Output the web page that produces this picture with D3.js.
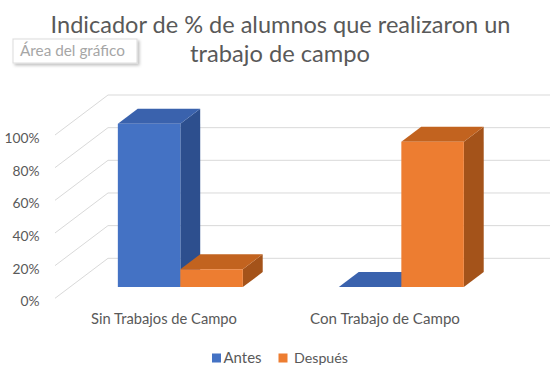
<!DOCTYPE html>
<html>
<head>
<meta charset="utf-8">
<script src="https://cdn.jsdelivr.net/npm/d3@7/dist/d3.min.js"></script>
<style>
  html, body { margin: 0; padding: 0; background: #fff; }
  svg { display: block; }
  text { font-family: Lato, "Open Sans", sans-serif; }
</style>
</head>
<body>
<svg id="chart" width="554" height="376"></svg>
<script>
// ---- data ----
const categories = ["Sin Trabajos de Campo", "Con Trabajo de Campo"];
const seriesNames = ["Antes", "Después"];
const antes = [1.00, 0.00];
const despues = [0.11, 0.89];
const yTicks = [0, 0.2, 0.4, 0.6, 0.8, 1.0];
const titleLines = ["Indicador de % de alumnos que realizaron un", "trabajo de campo"];
const tooltipText = "Área del gráfico";

const series = [
  { name: seriesNames[0], values: antes, front: "#4472C4", top: "#3a62ad", side: "#2d4f8e" },
  { name: seriesNames[1], values: despues, front: "#ED7D31", top: "#c2631f", side: "#a4531a" }
];

const svg = d3.select("#chart");
const textColor = "#595959";

function fit(sel, w) {
  sel.each(function () {
    const t = this.getComputedTextLength();
    const fs = parseFloat(this.getAttribute("font-size"));
    if (t > 0) this.setAttribute("font-size", (fs * w / t).toFixed(2));
  });
}

// ---- scales / projection ----
const x = d3.scaleBand().domain(categories).range([55, 497]).padding(0);
const xs = d3.scaleBand().domain(seriesNames).range([48, 173]).padding(0);
const y = d3.scaleLinear().domain([0, 1]).range([298.3, 135]);
const DX = 53, DY = -40;       // depth offset of the back wall
const d0 = 0.28, d1 = 0.655;   // depth extent of bars
function P(px, v, d) { return [px + d * DX, y(v) + d * DY]; }
const xLeft = x.range()[0], xRight = x.range()[1];

// ---- title ----
const title = svg.append("g").attr("fill", textColor);
title.append("text").attr("x", 280.5).attr("y", 33.3).attr("text-anchor", "middle")
  .attr("font-size", 20).text(titleLines[0]).call(fit, 460);
title.append("text").attr("x", 280).attr("y", 62).attr("text-anchor", "middle")
  .attr("font-size", 20).text(titleLines[1]).call(fit, 180);

// ---- tooltip box ----
const defs = svg.append("defs");
const f = defs.append("filter").attr("id", "sh").attr("x", "-10%").attr("y", "-20%").attr("width", "130%").attr("height", "160%");
f.append("feDropShadow").attr("dx", 2).attr("dy", 2).attr("stdDeviation", 1.5).attr("flood-color", "#000").attr("flood-opacity", 0.25);
svg.append("rect").attr("x", 13).attr("y", 39).attr("width", 124).attr("height", 24)
  .attr("fill", "#fff").attr("stroke", "#dcdcdc").attr("filter", "url(#sh)");
svg.append("text").attr("x", 20).attr("y", 56).attr("font-size", 13).attr("fill", "#a6a6a6")
  .text(tooltipText).call(fit, 105);

// ---- gridlines (back wall + side wall) ----
const grid = svg.append("g").attr("stroke", "#d9d9d9").attr("stroke-width", 1).attr("fill", "none");
yTicks.forEach(t => {
  const a = P(xLeft, t, 0), b = P(xLeft, t, 1), c = P(xRight, t, 1);
  grid.append("path").attr("d", `M${a[0]},${a[1]}L${b[0]},${b[1]}L${c[0]},${c[1]}`);
});

// ---- y axis labels ----
const fmt = d3.format(".0%");
const yl = svg.append("g").attr("fill", textColor);
const yLabels = yl.selectAll("text").data(yTicks).join("text")
  .attr("x", 39.5).attr("y", d => y(d) + 8).attr("text-anchor", "end")
  .attr("font-size", 14).text(d => fmt(d));
{
  const node = yLabels.filter(d => d === 1).node();
  const t = node.getComputedTextLength();
  const fs = (14 * 35 / t).toFixed(2);
  yLabels.attr("font-size", fs);
}

// ---- bars ----
const bars = svg.append("g");
function poly(pts) { return "M" + pts.map(p => p.join(",")).join("L") + "Z"; }
categories.forEach((cat, ci) => {
  series.forEach(s => {
    const v = s.values[ci];
    const x0 = x(cat) + xs(s.name), x1 = x0 + xs.bandwidth();
    const g = bars.append("g");
    // side
    g.append("path").attr("fill", s.side)
      .attr("d", poly([P(x1, 0, d0), P(x1, v, d0), P(x1, v, d1), P(x1, 0, d1)]));
    // top
    g.append("path").attr("fill", s.top)
      .attr("d", poly([P(x0, v, d0), P(x1, v, d0), P(x1, v, d1), P(x0, v, d1)]));
    // front
    g.append("path").attr("fill", s.front)
      .attr("d", poly([P(x0, 0, d0), P(x1, 0, d0), P(x1, v, d0), P(x0, v, d0)]));
  });
});

// ---- category labels ----
const cl = svg.append("g").attr("fill", textColor);
const catWidths = [146, 150];
categories.forEach((c, i) => {
  cl.append("text").attr("x", x(c) + x.bandwidth() / 2 - 1.5).attr("y", 324)
    .attr("text-anchor", "middle").attr("font-size", 14).text(c).call(fit, catWidths[i]);
});

// ---- legend ----
const lg = svg.append("g");
const legendPos = [{ sx: 212, tx: 223.5, w: 38 }, { sx: 278.5, tx: 294, w: 54 }];
series.forEach((s, i) => {
  lg.append("rect").attr("x", legendPos[i].sx).attr("y", 353.5).attr("width", 9).attr("height", 9).attr("fill", s.front);
  lg.append("text").attr("x", legendPos[i].tx).attr("y", 363).attr("font-size", 14)
    .attr("fill", textColor).text(s.name).call(fit, legendPos[i].w);
});
</script>
</body>
</html>
